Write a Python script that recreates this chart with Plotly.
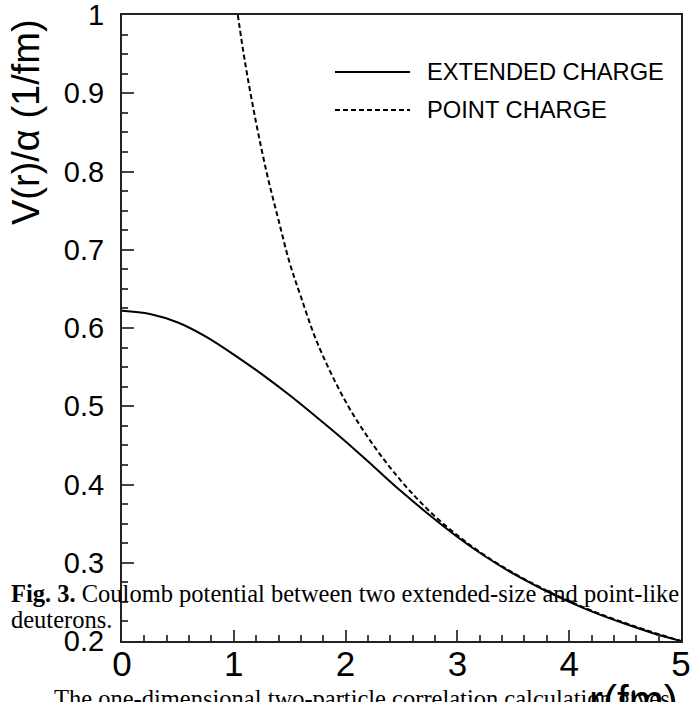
import plotly.graph_objects as go

# ---- data ----
r_extended = [0.0, 0.25, 0.5, 0.75, 1.0, 1.25, 1.5, 1.75, 2.0, 2.25, 2.5, 2.75,
              3.0, 3.25, 3.5, 3.75, 4.0, 4.25, 4.5, 4.75, 5.0]
v_extended = [0.622, 0.618, 0.607, 0.589, 0.566, 0.541, 0.514, 0.485, 0.455, 0.423,
              0.391, 0.361, 0.333, 0.308, 0.286, 0.267, 0.250, 0.235, 0.222, 0.210, 0.200]

r_point = [1.036, 1.1, 1.2, 1.3, 1.4, 1.5, 1.6, 1.75, 2.0, 2.25, 2.5, 2.75, 3.0,
           3.25, 3.5, 3.75, 4.0, 4.25, 4.5, 4.75, 5.0]
v_point = [1.0, 0.94, 0.862, 0.795, 0.738, 0.683, 0.640, 0.580, 0.506, 0.450, 0.404,
           0.366, 0.335, 0.309, 0.287, 0.268, 0.251, 0.236, 0.223, 0.211, 0.200]

x_tickvals = [0, 1, 2, 3, 4, 5]
x_ticktext = ["0", "1", "2", "3", "4", "5"]
y_tickvals = [0.2, 0.3, 0.4, 0.5, 0.6, 0.7, 0.8, 0.9, 1.0]
y_ticktext = ["0.2", "0.3", "0.4", "0.5", "0.6", "0.7", "0.8", "0.9", "1"]

series_names = ["EXTENDED CHARGE", "POINT CHARGE"]
caption_bold = "Fig. 3."
caption_line1 = " Coulomb potential between two extended-size and point-like"
caption_line2 = "deuterons."
body_text = "The one-dimensional two-particle correlation calculation gives"
x_title = "r(fm)"
y_title = "V(r)/α (1/fm)"

# ---- layout geometry (pixels) ----
W, H = 691, 702
L, R, T, B = 122, 10, 15, 61
PW = W - L - R
PH = H - T - B


def px(x):
    return (x - L) / PW


def py(y):
    return (H - B - y) / PH


SANS = "Liberation Sans, Arial, sans-serif"
SERIF = "Liberation Serif, Times New Roman, serif"

fig = go.Figure()
fig.add_trace(go.Scatter(x=r_extended, y=v_extended, mode="lines", name=series_names[0],
                         line=dict(color="black", width=2, shape="spline", smoothing=1.0),
                         showlegend=False))
fig.add_trace(go.Scatter(x=r_point, y=v_point, mode="lines", name=series_names[1],
                         line=dict(color="black", width=2, dash="5px,3px", shape="spline",
                                   smoothing=1.0),
                         showlegend=False))

axis_common = dict(showline=True, linecolor="#222", linewidth=2, mirror=True,
                   showgrid=False, zeroline=False, ticks="inside", tickcolor="#444",
                   tickwidth=1.5, ticklabeloverflow="allow", automargin=False)

fig.update_xaxes(range=[0, 5], tickvals=x_tickvals, ticktext=x_ticktext, ticklen=11,
                 tickfont=dict(family=SANS, size=35, color="black"),
                 ticklabelstandoff=-9,
                 minor=dict(dtick=0.2, tick0=0, ticks="inside", ticklen=6,
                            tickcolor="#444", tickwidth=1.5),
                 **axis_common)
fig.update_yaxes(range=[0.2, 1.0], tickvals=y_tickvals, ticktext=y_ticktext, ticklen=12,
                 tickfont=dict(family=SANS, size=29, color="black"),
                 ticklabelstandoff=10,
                 minor=dict(dtick=0.025, tick0=0.2, ticks="inside", ticklen=6,
                            tickcolor="#444", tickwidth=1.5),
                 **axis_common)

shapes = [
    dict(type="line", xref="paper", yref="paper", x0=px(335), x1=px(410), y0=py(72), y1=py(72),
         line=dict(color="black", width=2)),
    dict(type="line", xref="paper", yref="paper", x0=px(335), x1=px(410), y0=py(110), y1=py(110),
         line=dict(color="black", width=2, dash="5px,3px")),
]

annotations = [
    dict(text=series_names[0], x=px(425), y=py(72), xanchor="left", yanchor="middle",
         font=dict(family=SANS, size=23.7, color="black")),
    dict(text=series_names[1], x=px(425), y=py(110), xanchor="left", yanchor="middle",
         font=dict(family=SANS, size=23.7, color="black")),
    dict(text=y_title, x=px(26), y=py(17), xanchor="center", yanchor="top", textangle=-90,
         font=dict(family=SANS, size=38, color="black")),
    dict(text=x_title, x=px(680), y=py(700), xanchor="right", yanchor="middle",
         font=dict(family=SANS, size=42, color="black")),
    dict(text="<b>" + caption_bold + "</b>" + caption_line1, x=px(9), y=py(593),
         xanchor="left", yanchor="middle", font=dict(family=SERIF, size=24.5, color="black")),
    dict(text=caption_line2, x=px(9), y=py(619), xanchor="left", yanchor="middle",
         font=dict(family=SERIF, size=24.5, color="black")),
    dict(text=body_text, x=px(52), y=py(698), xanchor="left", yanchor="middle",
         font=dict(family=SERIF, size=24.5, color="black")),
]
for a in annotations:
    a.update(xref="paper", yref="paper", showarrow=False)

fig.update_layout(width=W, height=H, margin=dict(l=L, r=R, t=T, b=B, autoexpand=False),
                  paper_bgcolor="white", plot_bgcolor="white",
                  shapes=shapes, annotations=annotations, showlegend=False)

fig.write_html("out.html")
